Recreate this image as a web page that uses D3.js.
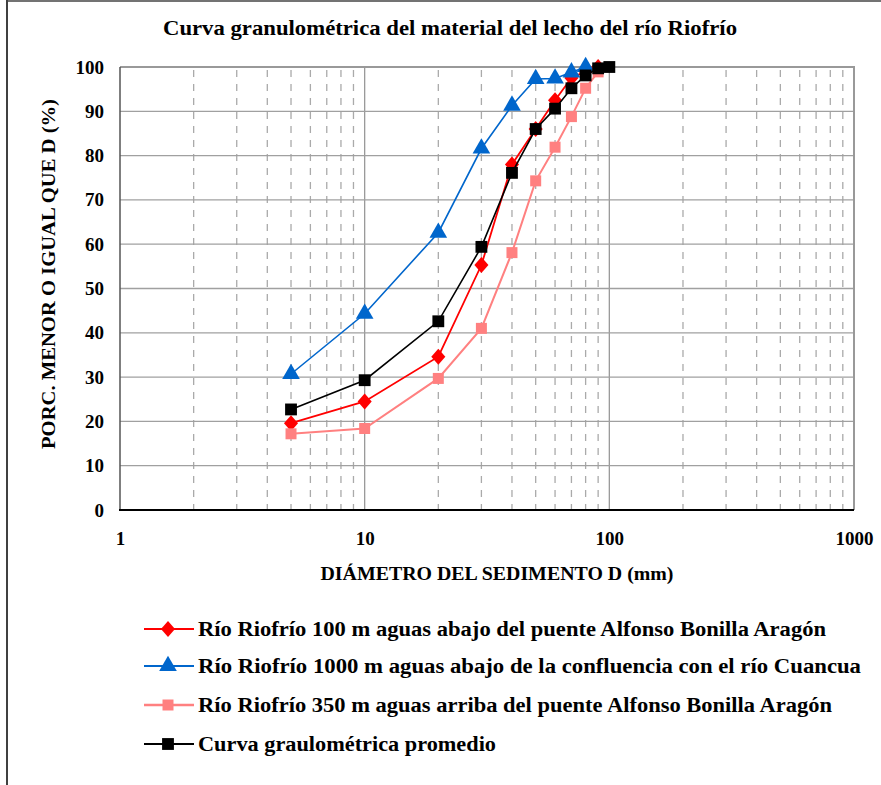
<!DOCTYPE html>
<html><head><meta charset="utf-8">
<script src="https://cdn.jsdelivr.net/npm/d3@7"></script>
<style>body{margin:0;background:#fff}svg{display:block}text{font-family:"Liberation Serif","Times New Roman",serif}</style>
</head><body>
<svg id="c" width="881" height="785"></svg>
<script>
const diam = [5, 10, 20, 30, 40, 50, 60, 70, 80, 90, 100];
const seriesNames = [
  "Río Riofrío 100 m aguas abajo del puente Alfonso Bonilla Aragón",
  "Río Riofrío 1000 m aguas abajo de la confluencia con el río Cuancua",
  "Río Riofrío 350 m aguas arriba del puente Alfonso Bonilla Aragón",
  "Curva graulométrica promedio"
];
const red100  = [19.6, 24.5, 34.6, 55.3, 78.0, 86.0, 92.5, 97.5, 99.0, 100, null];
const blue1000 = [30.7, 44.3, 62.6, 81.6, 91.3, 97.3, 97.4, 98.8, 100, null, null];
const pink350 = [17.2, 18.4, 29.7, 41.0, 58.1, 74.3, 81.9, 88.8, 95.2, 98.9, null];
const avg     = [22.7, 29.3, 42.6, 59.4, 76.1, 86.0, 90.6, 95.2, 98.1, 99.7, 100];
const xTicks = [1, 10, 100, 1000];
const yTicks = [0, 10, 20, 30, 40, 50, 60, 70, 80, 90, 100];
const title = "Curva granulométrica del material del lecho del río Riofrío";
const xTitle = "DIÁMETRO DEL SEDIMENTO D (mm)";
const yTitle = "PORC. MENOR O IGUAL QUE D (%)";

const svg = d3.select("#c");
const L = 120, R = 854, T = 67, B = 510;
const x = d3.scaleLog().domain([1, 1000]).range([L, R]);
const y = d3.scaleLinear().domain([0, 100]).range([B, T]);

// custom diamond (wider than d3's)
const diamond = { draw(ctx, size) { const h = Math.sqrt(size) * 0.8, w = h * 0.88;
  ctx.moveTo(0,-h); ctx.lineTo(w,0); ctx.lineTo(0,h); ctx.lineTo(-w,0); ctx.closePath(); } };

// outer frame
svg.append("line").attr("x1",7).attr("x2",7).attr("y1",0).attr("y2",785).attr("stroke","#000").attr("stroke-width",1.5);
svg.append("line").attr("x1",7).attr("x2",881).attr("y1",1).attr("y2",1).attr("stroke","#444").attr("stroke-width",1.5);

// title
svg.append("text").attr("x",450).attr("y",35).attr("text-anchor","middle")
  .attr("font-size",21).attr("font-weight","bold").attr("textLength",574).attr("lengthAdjust","spacingAndGlyphs").text(title);

// minor dashed vertical grid
const minors = [];
[1,10,100].forEach(d => { for (let k=2;k<=9;k++) minors.push(d*k); });
svg.append("g").selectAll("line").data(minors).join("line")
  .attr("x1",d=>x(d)).attr("x2",d=>x(d)).attr("y1",T).attr("y2",B)
  .attr("stroke","#aaa").attr("stroke-width",1.3).attr("stroke-dasharray","7,7").attr("stroke-dashoffset",-3);
// major vertical grid
svg.append("g").selectAll("line").data([10,100]).join("line")
  .attr("x1",d=>x(d)).attr("x2",d=>x(d)).attr("y1",T).attr("y2",B)
  .attr("stroke","#999").attr("stroke-width",1.3);
// horizontal grid
svg.append("g").selectAll("line").data(yTicks.filter(d=>d>0 && d<100)).join("line")
  .attr("x1",L).attr("x2",R).attr("y1",d=>y(d)).attr("y2",d=>y(d))
  .attr("stroke","#a0a0a0").attr("stroke-width",1.3);
// top and right border
svg.append("path").attr("d",`M${L},${T}H${R}V${B}`).attr("fill","none").attr("stroke","#999").attr("stroke-width",2);
// left and bottom axes
svg.append("line").attr("x1",L).attr("x2",L).attr("y1",T).attr("y2",B).attr("stroke","#555").attr("stroke-width",1.5);
svg.append("line").attr("x1",L-1).attr("x2",R).attr("y1",B).attr("y2",B).attr("stroke","#000").attr("stroke-width",2);

// y tick labels
const yAxis = d3.axisLeft(y).tickValues(yTicks).tickSize(0).tickPadding(16);
const gy = svg.append("g").attr("transform",`translate(${L},0)`).call(yAxis);
gy.select(".domain").remove();
gy.selectAll("text").attr("font-size",19).attr("font-weight","bold").attr("font-family","Liberation Serif").attr("fill","#000");

// x tick labels
const xAxis = d3.axisBottom(x).tickValues(xTicks).tickFormat(d3.format("d")).tickSize(0).tickPadding(22);
const gx = svg.append("g").attr("transform",`translate(0,${B})`).call(xAxis);
gx.select(".domain").remove();
gx.selectAll("text").attr("font-size",19).attr("font-weight","bold").attr("font-family","Liberation Serif").attr("fill","#000");

// axis titles
svg.append("text").attr("x",497).attr("y",580).attr("text-anchor","middle").attr("font-size",19).attr("font-weight","bold")
  .attr("textLength",353).attr("lengthAdjust","spacingAndGlyphs").text(xTitle);
svg.append("text").attr("transform","translate(55,274) rotate(-90)").attr("text-anchor","middle").attr("font-size",19).attr("font-weight","bold")
  .attr("textLength",350).attr("lengthAdjust","spacingAndGlyphs").text(yTitle);

// series
const series = [
  {name:seriesNames[0], vals:red100, color:"#ff0000", w:1.8, sym:diamond, size:100},
  {name:seriesNames[1], vals:blue1000, color:"#0066cc", w:1.6, sym:d3.symbolTriangle, size:135},
  {name:seriesNames[2], vals:pink350, color:"#ff8080", w:2, sym:d3.symbolSquare, size:121},
  {name:seriesNames[3], vals:avg, color:"#000000", w:1.6, sym:d3.symbolSquare, size:140}
];
const line = d3.line().defined(d=>d[1]!=null).x(d=>x(d[0])).y(d=>y(d[1]));
series.forEach(s => {
  const pts = diam.map((d,i)=>[d, s.vals[i]]).filter(p=>p[1]!=null);
  svg.append("path").datum(pts).attr("d",line).attr("fill","none").attr("stroke",s.color).attr("stroke-width",s.w);
  svg.append("g").selectAll("path").data(pts).join("path")
    .attr("transform",p=>`translate(${x(p[0])},${y(p[1])})`)
    .attr("d",d3.symbol().type(s.sym).size(s.size)).attr("fill",s.color);
});

// legend
const legY = [629, 666, 705, 744];
const legW = [646, 681, 652, 316];
series.forEach((s,i) => {
  const g = svg.append("g").attr("transform",`translate(0,${legY[i]})`);
  g.append("line").attr("x1",144).attr("x2",194).attr("y1",0).attr("y2",0).attr("stroke",s.color).attr("stroke-width",s.w+0.4);
  g.append("path").attr("transform","translate(168,0)").attr("d",d3.symbol().type(s.sym).size(s.size)).attr("fill",s.color);
  g.append("text").attr("x",198).attr("y",7).attr("font-size",20).attr("font-weight","bold")
    .attr("textLength",legW[i]-18).attr("lengthAdjust","spacingAndGlyphs").text(s.name);
});
</script>
</body></html>
